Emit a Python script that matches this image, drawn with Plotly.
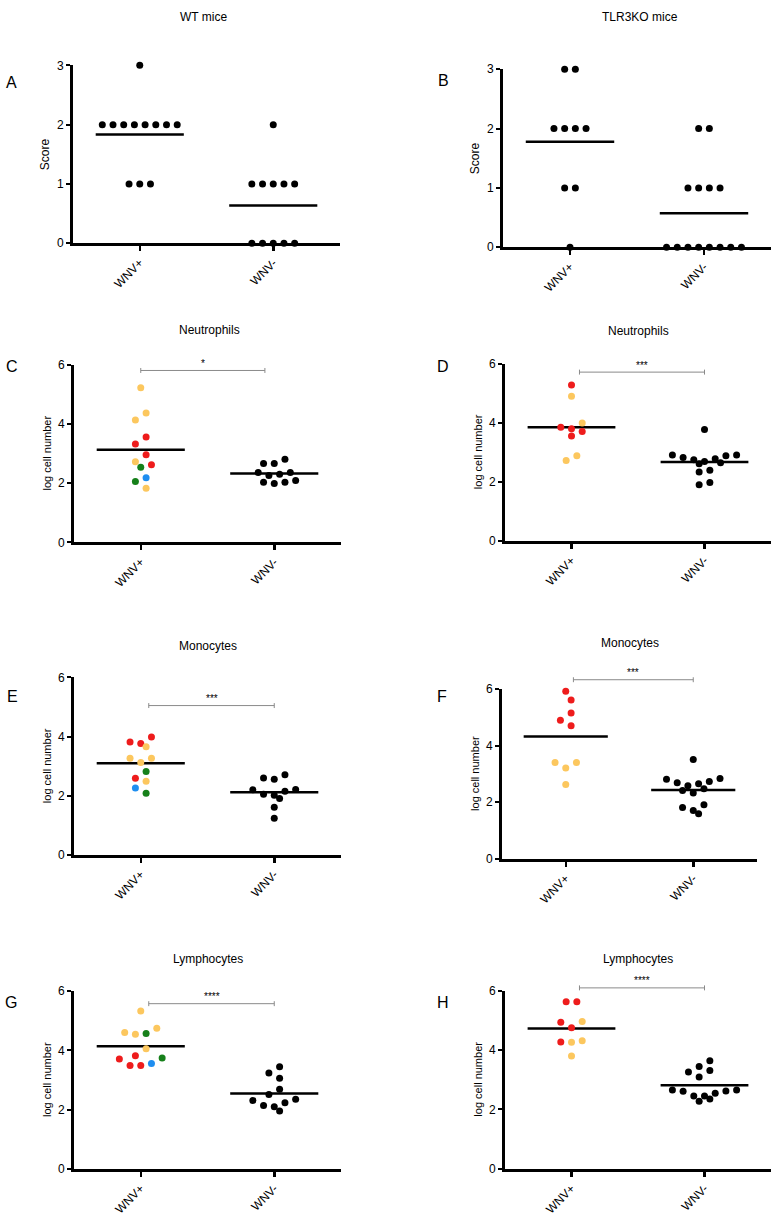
import plotly.graph_objects as go
import numpy as np

W, H = 776, 1217
FONT = "Arial, Liberation Sans, sans-serif"

# ---------------- data ----------------
categories = ["WNV+", "WNV-"]

A_pos = [3, 2, 2, 2, 2, 2, 2, 2, 2, 1, 1, 1]
A_neg = [2, 1, 1, 1, 1, 1, 0, 0, 0, 0, 0]

B_pos = [3, 3, 2, 2, 2, 2, 1, 1, 0]
B_neg = [2, 2, 1, 1, 1, 1, 0, 0, 0, 0, 0, 0, 0, 0]

C_pos = [5.22, 4.37, 4.13, 3.56, 3.32, 2.96, 2.72, 2.62, 2.54, 2.18, 2.06, 1.83]
C_pos_grp = ["Y", "Y", "Y", "R", "R", "R", "Y", "R", "G", "B", "G", "Y"]
C_neg = [2.36, 2.26, 2.03, 1.99, 2.03, 2.09, 2.30, 2.36, 2.66, 2.66, 2.81]

D_pos = [5.27, 4.89, 3.99, 3.84, 3.79, 3.70, 3.55, 2.88, 2.72]
D_pos_grp = ["R", "Y", "Y", "R", "R", "R", "R", "Y", "Y"]
D_neg = [3.77, 2.90, 2.82, 2.74, 2.78, 2.88, 2.90, 2.64, 2.61, 2.68, 2.39, 2.33, 1.90, 1.97]

E_pos = [3.99, 3.77, 3.82, 3.66, 3.27, 3.27, 3.12, 2.82, 2.59, 2.49, 2.26, 2.08]
E_pos_grp = ["R", "R", "R", "Y", "Y", "Y", "Y", "G", "R", "Y", "B", "G"]
E_neg = [2.60, 2.56, 2.71, 2.21, 2.15, 2.20, 2.02, 2.05, 1.91, 1.61, 1.24]

F_pos = [5.92, 5.61, 5.15, 4.90, 4.70, 3.40, 3.40, 3.21, 2.63]
F_pos_grp = ["R", "R", "R", "R", "R", "Y", "Y", "Y", "Y"]
F_neg = [3.51, 2.81, 2.69, 2.73, 2.84, 2.58, 2.65, 2.41, 2.48, 2.33, 1.81, 1.71, 1.91, 1.59]

G_pos = [5.33, 4.75, 4.61, 4.55, 4.57, 4.06, 3.74, 3.82, 3.71, 3.56, 3.49, 3.49]
G_pos_grp = ["Y", "Y", "Y", "Y", "G", "Y", "G", "R", "R", "B", "R", "R"]
G_neg = [3.45, 3.24, 3.06, 2.69, 2.51, 2.35, 2.31, 2.23, 2.14, 2.10, 1.95]

H_pos = [5.62, 5.62, 4.96, 4.93, 4.75, 4.27, 4.26, 4.31, 3.80]
H_pos_grp = ["R", "R", "Y", "R", "R", "R", "Y", "Y", "Y"]
H_neg = [3.64, 3.31, 3.44, 3.09, 3.26, 2.62, 2.54, 2.65, 2.65, 2.61, 2.45, 2.45, 2.27, 2.35]

panel_titles = ["WT mice", "TLR3KO mice", "Neutrophils", "Neutrophils",
                "Monocytes", "Monocytes", "Lymphocytes", "Lymphocytes"]
panel_letters = ["A", "B", "C", "D", "E", "F", "G", "H"]
y_titles = ["Score", "Score"] + ["log cell number"] * 6
sig_labels = [None, None, "*", "***", "***", "***", "****", "****"]
sig_heights = [None, None, 5.80, 5.71, 5.05, 6.33, 5.58, 6.09]

PALETTE = {"R": "#ee1c1c", "Y": "#fcc75e", "G": "#16801a", "B": "#1e8ef0", "K": "#000000"}

# ---------------- layout geometry (pixels) ----------------
geo = [
    dict(x0=73, x1=340, yt=59, yb=239, ymax=3, tt=(203, 10), lt=(11, 76), yx=45, sx=None),
    dict(x0=503, x1=771, yt=63, yb=243, ymax=3, tt=(640, 10), lt=(443, 74), yx=475, sx=None),
    dict(x0=74, x1=341, yt=361.7, yb=541.7, ymax=6, tt=(209, 327), lt=(12, 364), yx=47, sx=(0.0, 0.93)),
    dict(x0=505, x1=771, yt=360.7, yb=540, ymax=6, tt=(638, 328), lt=(443, 364), yx=478, sx=(0.06, 1.0)),
    dict(x0=74, x1=341, yt=678.3, yb=857.7, ymax=6, tt=(208, 646), lt=(12, 698), yx=47, sx=(0.06, 1.0)),
    dict(x0=502, x1=757, yt=690, yb=861.7, ymax=6, tt=(630, 643), lt=(442, 698), yx=475, sx=(0.06, 1.0)),
    dict(x0=74, x1=341, yt=995.7, yb=1175.3, ymax=6, tt=(208, 963), lt=(11, 1007), yx=47, sx=(0.06, 1.0)),
    dict(x0=505, x1=771, yt=995, yb=1175.3, ymax=6, tt=(638, 963), lt=(443, 1007), yx=478, sx=(0.06, 1.0)),
]

panels = [
    (A_pos, None, A_neg), (B_pos, None, B_neg),
    (C_pos, C_pos_grp, C_neg), (D_pos, D_pos_grp, D_neg),
    (E_pos, E_pos_grp, E_neg), (F_pos, F_pos_grp, F_neg),
    (G_pos, G_pos_grp, G_neg), (H_pos, H_pos_grp, H_neg),
]

XR = (-0.5, 1.5)


def swarm(vals, px_per_x, px_per_y, s_px=10.7, h_px=7.5):
    """Prism-like row arrangement: group nearby values into rows and spread symmetrically,
    shifting a row by half a step when it would collide with the row above."""
    n = len(vals)
    order = sorted(range(n), key=lambda i: -vals[i])
    rows, cur, start = [], [], None
    for i in order:
        if cur and (start - vals[i]) * px_per_y > h_px:
            rows.append(cur)
            cur = []
        if not cur:
            start = vals[i]
        cur.append(i)
    if cur:
        rows.append(cur)
    off_px = [0.0] * n
    placed = []
    for row in rows:
        m = len(row)
        pos = [(k - (m - 1) / 2) * s_px for k in range(m)]
        pos = sorted(pos, key=lambda p: (round(abs(p), 6), p))
        assign = list(zip(sorted(row, key=lambda j: vals[j]), pos))
        best, best_d = 0.0, -1
        for shift in (0.0, s_px / 2, -s_px / 2):
            dmin = 1e9
            for i, p in assign:
                for (px, py) in placed:
                    d = np.hypot(p + shift - px, vals[i] * px_per_y - py)
                    dmin = min(dmin, d)
            if dmin >= 0.85 * s_px:
                best = shift
                break
            if dmin > best_d:
                best, best_d = shift, dmin
        for i, p in assign:
            off_px[i] = p + best
            placed.append((p + best, vals[i] * px_per_y))
    return [o / px_per_x for o in off_px]


fig = go.Figure()
layout = dict(width=W, height=H, margin=dict(l=0, r=0, t=0, b=0), autosize=False,
              paper_bgcolor="white", plot_bgcolor="white", showlegend=False,
              font=dict(family=FONT, color="black", size=12))
annotations, shapes = [], []

for k, (g, (pos_vals, pos_grp, neg_vals)) in enumerate(zip(geo, panels)):
    n = k + 1
    xa = "x" if n == 1 else f"x{n}"
    ya = "y" if n == 1 else f"y{n}"
    px_per_x = (g["x1"] - g["x0"]) / (XR[1] - XR[0])
    plot_h = g["yb"] - g["yt"]
    px_per_y = plot_h / g["ymax"]

    groups = [(0, pos_vals, pos_grp if pos_grp else ["K"] * len(pos_vals)),
              (1, neg_vals, ["K"] * len(neg_vals))]
    for ci, vals, grp in groups:
        offs = swarm(vals, px_per_x, px_per_y)
        mean = float(np.mean(vals))
        fig.add_trace(go.Scatter(x=[ci - 0.33, ci + 0.33], y=[mean, mean], mode="lines",
                                 line=dict(color="black", width=2.5), xaxis=xa, yaxis=ya,
                                 hoverinfo="skip"))
        fig.add_trace(go.Scatter(x=[ci + o for o in offs], y=vals, mode="markers",
                                 marker=dict(size=7, color=[PALETTE[c] for c in grp], line=dict(width=0)),
                                 cliponaxis=False, xaxis=xa, yaxis=ya))

    tick_step = 1 if g["ymax"] == 3 else 2
    layout["xaxis" if n == 1 else f"xaxis{n}"] = dict(
        domain=[g["x0"] / W, g["x1"] / W], range=list(XR), anchor=ya,
        tickmode="array", tickvals=[0, 1], ticktext=categories, tickangle=-45,
        showline=True, linewidth=3, linecolor="black", ticks="outside", ticklen=5,
        tickwidth=2.5, tickcolor="black", showgrid=False, zeroline=False,
        tickfont=dict(size=12, family=FONT), fixedrange=True)
    layout["yaxis" if n == 1 else f"yaxis{n}"] = dict(
        domain=[1 - g["yb"] / H, 1 - g["yt"] / H], range=[0, g["ymax"]], anchor=xa,
        tickmode="array", tickvals=list(range(0, g["ymax"] + 1, tick_step)),
        showline=True, linewidth=3, linecolor="black", ticks="outside", ticklen=4,
        tickwidth=2, tickcolor="black", showgrid=False, zeroline=False,
        tickfont=dict(size=12, family=FONT), fixedrange=True)

    annotations.append(dict(text=panel_titles[k], x=g["tt"][0] / W, y=1 - g["tt"][1] / H,
                            xref="paper", yref="paper", showarrow=False, xanchor="center",
                            yanchor="middle", font=dict(size=12, family=FONT)))
    annotations.append(dict(text=panel_letters[k], x=g["lt"][0] / W, y=1 - g["lt"][1] / H,
                            xref="paper", yref="paper", showarrow=False, xanchor="center",
                            yanchor="middle", font=dict(size=16, family=FONT)))
    annotations.append(dict(text=y_titles[k], x=g["yx"] / W, y=1 - (g["yt"] + g["yb"]) / 2 / H,
                            xref="paper", yref="paper", showarrow=False, xanchor="center",
                            yanchor="middle", textangle=-90,
                            font=dict(size=12 if g["ymax"] == 3 else 11, family=FONT)))

    if sig_labels[k]:
        sx0, sx1 = g["sx"]
        dx0 = (sx0 - XR[0]) / (XR[1] - XR[0])
        dx1 = (sx1 - XR[0]) / (XR[1] - XR[0])
        dy = sig_heights[k] / g["ymax"]
        tick_h = 2.5 / plot_h
        ref_x, ref_y = f"{xa} domain", f"{ya} domain"
        line = dict(color="#8a8a8a", width=1)
        shapes.append(dict(type="line", xref=ref_x, yref=ref_y, x0=dx0, x1=dx1, y0=dy, y1=dy, line=line))
        for xx in (dx0, dx1):
            shapes.append(dict(type="line", xref=ref_x, yref=ref_y, x0=xx, x1=xx,
                               y0=dy - tick_h, y1=dy + tick_h, line=line))
        annotations.append(dict(text=sig_labels[k], xref=ref_x, yref=ref_y, x=(dx0 + dx1) / 2, y=dy,
                                yshift=7, showarrow=False, xanchor="center", yanchor="middle",
                                font=dict(size=10, family=FONT)))

layout["annotations"] = annotations
layout["shapes"] = shapes
fig.update_layout(**layout)
fig.write_html("out.html", config={"displayModeBar": False, "staticPlot": True},
               post_script="document.body.style.margin='0px';document.body.style.overflow='hidden';")
